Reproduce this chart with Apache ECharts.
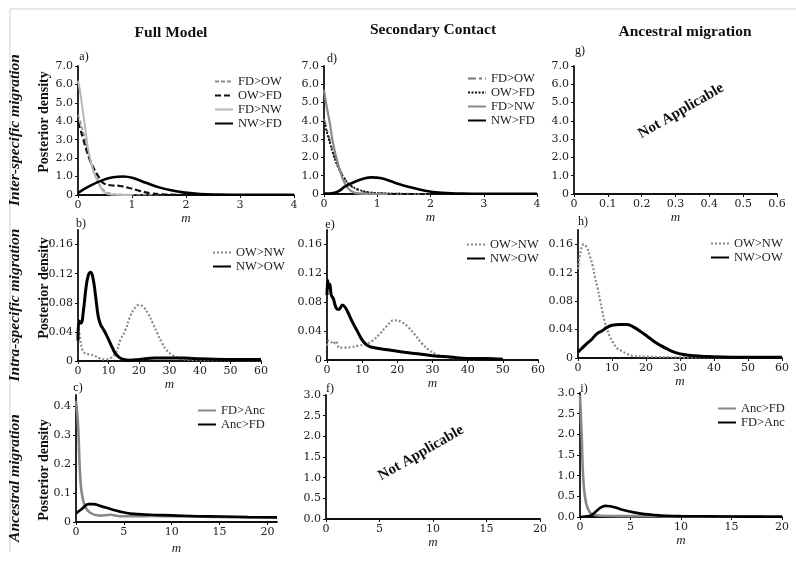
<!DOCTYPE html>
<html><head><meta charset="utf-8">
<script src="https://cdn.jsdelivr.net/npm/echarts@6/dist/echarts.min.js"></script>
<style>html,body{margin:0;padding:0;background:#fff}#c{width:796px;height:561px}</style>
</head><body><div id="c"></div>
<script>
// ---- data (x = m, y = posterior density) ----
const a_FD_OW = [[0,4.35],[0.05,3.9],[0.1,3.35],[0.19,2.27],[0.28,1.36],[0.38,0.72],[0.47,0.27],[0.59,0.09],[0.8,0.03],[1.2,0.01],[1.6,0]];
const a_OW_FD = [[0,3.95],[0.05,3.5],[0.1,3.0],[0.15,2.5],[0.22,1.9],[0.3,1.4],[0.38,1.0],[0.47,0.65],[0.6,0.53],[0.78,0.49],[0.95,0.38],[1.1,0.26],[1.33,0.1],[1.6,0.03],[2,0.01]];
const a_FD_NW = [[0,6.2],[0.04,5.6],[0.07,5.0],[0.13,3.7],[0.19,2.45],[0.28,1.36],[0.38,0.63],[0.47,0.2],[0.56,0.05],[0.7,0.01],[1,0]];
const a_NW_FD = [[0,0.12],[0.22,0.5],[0.47,0.82],[0.65,0.96],[0.84,1.0],[1.02,0.92],[1.27,0.65],[1.52,0.4],[1.7,0.27],[1.98,0.13],[2.26,0.05],[2.6,0.02],[3,0.01],[4,0.01]];

const d_FD_OW = [[0,4.1],[0.08,3.25],[0.17,2.3],[0.26,1.55],[0.36,0.98],[0.48,0.5],[0.64,0.22],[0.83,0.08],[1.1,0.03],[1.5,0.01],[2,0]];
const d_OW_FD = [[0,3.95],[0.08,3.1],[0.17,2.2],[0.26,1.5],[0.36,0.95],[0.48,0.52],[0.64,0.25],[0.83,0.1],[1.1,0.04],[1.5,0.01],[2.2,0]];
const d_FD_NW = [[0,5.7],[0.04,4.95],[0.11,3.86],[0.17,2.77],[0.26,1.68],[0.36,0.77],[0.45,0.31],[0.58,0.06],[0.8,0.01],[1.2,0]];
const d_NW_FD = [[0,0.02],[0.2,0.07],[0.3,0.2],[0.39,0.4],[0.58,0.67],[0.77,0.86],[0.89,0.91],[1.08,0.86],[1.33,0.62],[1.58,0.4],[1.9,0.18],[2.21,0.07],[2.6,0.02],[3,0.01],[4,0.01]];

const b_OW_NW = [[0,0.055],[0.7,0.03],[1.5,0.015],[2.5,0.01],[4,0.009],[5.5,0.007],[7,0.004],[9,0.002],[11,0.005],[12.5,0.012],[14,0.03],[15.5,0.042],[17,0.06],[18.5,0.072],[20,0.077],[21.5,0.074],[23,0.065],[24.5,0.052],[26,0.038],[27.5,0.025],[29,0.015],[31,0.008],[34,0.003],[40,0.001],[60,0.001]];
const b_NW_OW = [[0,0.028],[0.3,0.055],[1,0.052],[1.8,0.07],[2.6,0.1],[3.4,0.118],[4.2,0.122],[5,0.112],[5.8,0.088],[6.6,0.062],[7.4,0.05],[8.4,0.043],[9.3,0.036],[10.3,0.027],[11.3,0.018],[12.3,0.01],[13.5,0.005],[15,0.002],[17,0.001],[20,0.002],[25,0.004],[30,0.004],[35,0.004],[40,0.003],[50,0.002],[60,0.002]];

const e_OW_NW = [[0,0.02],[0.5,0.027],[1.2,0.025],[1.8,0.022],[2.5,0.026],[3.5,0.017],[5,0.017],[7,0.018],[9,0.02],[11,0.022],[13,0.027],[15,0.036],[17,0.047],[19,0.055],[21,0.053],[23,0.046],[25,0.035],[27,0.023],[29,0.014],[31,0.008],[34,0.004],[38,0.002],[42,0.001]];
const e_NW_OW = [[0,0.09],[0.2,0.11],[0.5,0.1],[0.8,0.105],[1.2,0.09],[1.8,0.085],[2.6,0.072],[3.4,0.07],[4.4,0.076],[5.3,0.072],[6.5,0.06],[7.5,0.05],[8.5,0.041],[9.7,0.03],[10.8,0.023],[12,0.019],[13.5,0.017],[16,0.015],[20,0.012],[25,0.009],[30,0.006],[35,0.004],[40,0.002],[45,0.002],[50,0.001]];

const h_OW_NW = [[0,0.125],[0.8,0.15],[1.7,0.16],[2.6,0.155],[3.5,0.143],[4.3,0.13],[5,0.114],[5.8,0.098],[6.5,0.081],[7.2,0.065],[7.9,0.05],[8.6,0.04],[9.4,0.03],[10.4,0.021],[11.4,0.014],[12.8,0.01],[14.3,0.006],[16.2,0.003],[20,0.002],[30,0.001],[40,0.001],[60,0.001]];
const h_NW_OW = [[0,0.008],[1,0.013],[2.5,0.02],[4,0.026],[5.5,0.034],[7,0.038],[8.5,0.043],[10,0.046],[12.4,0.047],[14.5,0.047],[16.5,0.043],[18.5,0.037],[20.5,0.03],[22.5,0.023],[24.5,0.017],[26.5,0.012],[28.5,0.008],[31,0.005],[34,0.003],[38,0.002],[45,0.001],[60,0.001]];

const c_FD_Anc = [[0,0.42],[0.12,0.38],[0.24,0.32],[0.42,0.17],[0.6,0.1],[0.94,0.055],[1.47,0.032],[2.5,0.022],[3.6,0.025],[4.6,0.02],[6,0.02],[8,0.021],[10,0.02],[13,0.018],[16,0.017],[21,0.016]];
const c_Anc_FD = [[0,0.03],[0.6,0.045],[1.3,0.062],[1.8,0.062],[2.6,0.055],[3.6,0.045],[4.6,0.036],[5.7,0.029],[7.7,0.025],[10,0.023],[12.6,0.02],[15,0.019],[18,0.017],[21,0.016]];

const i_Anc_FD = [[0,2.95],[0.17,1.94],[0.33,0.9],[0.6,0.34],[1.0,0.1],[1.5,0.05],[2,0.03],[4,0.02],[6,0.02],[9,0.015],[12,0.01],[18,0.01]];
const i_FD_Anc = [[0,0],[0.5,0.01],[1.1,0.04],[1.6,0.14],[2.0,0.22],[2.5,0.27],[3.0,0.26],[3.5,0.23],[4.0,0.19],[4.8,0.14],[5.6,0.1],[6.4,0.07],[7.3,0.05],[8.5,0.03],[10,0.02],[13,0.015],[16,0.01],[20,0.01]];

// tick values
const yTicksRow1 = [0,1,2,3,4,5,6,7];
const yTicksRow2 = [0,0.04,0.08,0.12,0.16];
const yTicksC = [0,0.1,0.2,0.3,0.4];
const yTicksRow3 = [0,0.5,1,1.5,2,2.5,3];
const xTicks04 = [0,1,2,3,4];
const xTicksG = [0,0.1,0.2,0.3,0.4,0.5,0.6];
const xTicks60 = [0,10,20,30,40,50,60];
const xTicks20 = [0,5,10,15,20];

// ---- layout ----
const SERIF = 'DejaVu Serif';
const f1 = v => v===0 ? '0' : v.toFixed(1);
const f2 = v => v===0 ? '0' : v.toFixed(2);
const fi = v => String(v);
const f1z = v => v.toFixed(1);

const panels = [
  {g:{left:78,top:66,width:216,height:129}, x:[0,4,xTicks04,fi], y:[0,7,yTicksRow1,f1], gap:15},
  {g:{left:78,top:230,width:183,height:131}, x:[0,60,xTicks60,fi], y:[0,0.18,yTicksRow2,f2], gap:17},
  {g:{left:76,top:395,width:201,height:127}, x:[0,21,xTicks20,fi], y:[0,0.44,yTicksC,f1], gap:20},
  {g:{left:324,top:66,width:213,height:128}, x:[0,4,xTicks04,fi], y:[0,7,yTicksRow1,f1], gap:15},
  {g:{left:327,top:230,width:211,height:130}, x:[0,60,xTicks60,fi], y:[0,0.18,yTicksRow2,f2], gap:10},
  {g:{left:326,top:395,width:214,height:124}, x:[0,20,xTicks20,fi], y:[0,3,yTicksRow3,f1z], gap:16},
  {g:{left:574,top:66,width:203,height:128}, x:[0,0.6,xTicksG,f1], y:[0,7,yTicksRow1,f1], gap:15},
  {g:{left:578,top:230,width:204,height:128}, x:[0,60,xTicks60,fi], y:[0,0.18,yTicksRow2,f2], gap:13},
  {g:{left:580,top:393,width:202,height:124}, x:[0,20,xTicks20,fi], y:[0,3,yTicksRow3,f1z], gap:15}
];

const axisLine = {show:true, lineStyle:{color:'#111', width:1.8}};
const lbl = {fontFamily:SERIF, fontSize:11, color:'#222'};
const grid = [], xAxis = [], yAxis = [];
panels.forEach((p,k)=>{
  grid.push(Object.assign({containLabel:false}, p.g));
  xAxis.push({type:'value', gridIndex:k, min:p.x[0], max:p.x[1],
    axisLine, splitLine:{show:false},
    axisTick:{show:true, length:3, customValues:p.x[2], lineStyle:{color:'#111'}},
    axisLabel:Object.assign({margin:5, customValues:p.x[2], formatter:p.x[3]}, lbl),
    name:'m', nameLocation:'middle', nameGap:p.gap,
    nameTextStyle:{fontFamily:'Liberation Serif', fontStyle:'italic', fontSize:13, color:'#222'}});
  yAxis.push({type:'value', gridIndex:k, min:p.y[0], max:p.y[1],
    axisLine, splitLine:{show:false},
    axisTick:{show:true, length:3, customValues:p.y[2], lineStyle:{color:'#111'}},
    axisLabel:Object.assign({margin:5, customValues:p.y[2], formatter:p.y[3]}, lbl)});
});

const series = [];
function add(name, panel, data, color, width, type){
  series.push({name:name+'|'+panel, type:'line', xAxisIndex:panel, yAxisIndex:panel,
    data, smooth:0.4, symbol:'none', showSymbol:false, animation:false,
    lineStyle:{color, width, type:type||'solid', cap:'butt'}, itemStyle:{color}});
}
add('FD>OW',0,a_FD_OW,'#8c8c8c',1.6,[4,2]);
add('OW>FD',0,a_OW_FD,'#111',2.2,[6,3]);
add('FD>NW',0,a_FD_NW,'#b8b8b8',2);
add('NW>FD',0,a_NW_FD,'#000',2.6);
add('OW>NW',1,b_OW_NW,'#8a8a8a',2.2,[2,2]);
add('NW>OW',1,b_NW_OW,'#000',3);
add('FD>Anc',2,c_FD_Anc,'#888',2.6);
add('Anc>FD',2,c_Anc_FD,'#000',2.6);
add('FD>OW',3,d_FD_OW,'#777',2,[8,3,3,3]);
add('OW>FD',3,d_OW_FD,'#111',1.8,[2,1.5]);
add('FD>NW',3,d_FD_NW,'#8a8a8a',2.2);
add('NW>FD',3,d_NW_FD,'#000',2.6);
add('OW>NW',4,e_OW_NW,'#8a8a8a',2.2,[2,2]);
add('NW>OW',4,e_NW_OW,'#000',3);
add('OW>NW',7,h_OW_NW,'#8a8a8a',2.2,[2,2]);
add('NW>OW',7,h_NW_OW,'#000',3);
add('Anc>FD',8,i_Anc_FD,'#888',2.6);
add('FD>Anc',8,i_FD_Anc,'#000',2.6);

function leg(panel, names, left, top){
  return {show:true, orient:'vertical', left, top, itemWidth:18, itemHeight:10, itemGap:1,
    data:names.map(n=>n+'|'+panel), formatter:n=>n.split('|')[0],
    itemStyle:{opacity:0, borderWidth:0},
    textStyle:{fontFamily:'Liberation Serif', fontSize:12.5, color:'#222', lineHeight:12},
    selectedMode:false, padding:0};
}
const legend = [
  leg(0,['FD>OW','OW>FD','FD>NW','NW>FD'],214,75),
  leg(3,['FD>OW','OW>FD','FD>NW','NW>FD'],467,72),
  leg(1,['OW>NW','NW>OW'],212,246),
  leg(4,['OW>NW','NW>OW'],466,238),
  leg(7,['OW>NW','NW>OW'],710,237),
  leg(2,['FD>Anc','Anc>FD'],197,404),
  leg(8,['Anc>FD','FD>Anc'],717,402)
];

function txt(text, x, y, opt){
  return {type:'text', x, y, rotation:(opt&&opt.rot)||0, silent:true,
    style:Object.assign({text, fill:'#111', fontFamily:'Liberation Serif', fontSize:14,
      fontWeight:'bold', align:'center', verticalAlign:'middle'}, (opt&&opt.s)||{})};
}
const R = Math.PI/2;
const graphic = [
  {type:'line', shape:{x1:10,y1:9,x2:796,y2:9}, style:{stroke:'#cfcfcf', lineWidth:1}, silent:true},
  {type:'line', shape:{x1:10,y1:9,x2:10,y2:552}, style:{stroke:'#cfcfcf', lineWidth:1}, silent:true},
  txt('Full Model',171,33,{s:{fontSize:15.5}}),
  txt('Secondary Contact',433,30,{s:{fontSize:15.5}}),
  txt('Ancestral migration',685,32,{s:{fontSize:15.5}}),
  txt('Inter-specific migration',15,130,{rot:R,s:{fontStyle:'italic',fontSize:15.5}}),
  txt('Intra-specific migration',15,305,{rot:R,s:{fontStyle:'italic',fontSize:15.5}}),
  txt('Ancestral migration',15,478,{rot:R,s:{fontStyle:'italic',fontSize:15.5}}),
  txt('Posterior density',44,122,{rot:R}),
  txt('Posterior density',44,288,{rot:R}),
  txt('Posterior density',44,470,{rot:R}),
  txt('Not Applicable',681,111,{rot:Math.PI/6,s:{fontSize:15}}),
  txt('Not Applicable',421,453,{rot:Math.PI/6,s:{fontSize:15}}),
  txt('a)',84,57,{s:{fontSize:12,fontWeight:'normal'}}),
  txt('b)',81,224,{s:{fontSize:12,fontWeight:'normal'}}),
  txt('c)',78,388,{s:{fontSize:12,fontWeight:'normal'}}),
  txt('d)',332,59,{s:{fontSize:12,fontWeight:'normal'}}),
  txt('e)',330,225,{s:{fontSize:12,fontWeight:'normal'}}),
  txt('f)',330,389,{s:{fontSize:12,fontWeight:'normal'}}),
  txt('g)',580,51,{s:{fontSize:12,fontWeight:'normal'}}),
  txt('h)',583,222,{s:{fontSize:12,fontWeight:'normal'}}),
  txt('i)',584,389,{s:{fontSize:12,fontWeight:'normal'}})
];

const chart = echarts.init(document.getElementById('c'), null, {renderer:'canvas'});
chart.setOption({animation:false, backgroundColor:'#fff', grid, xAxis, yAxis, series, legend, graphic});
</script></body></html>
